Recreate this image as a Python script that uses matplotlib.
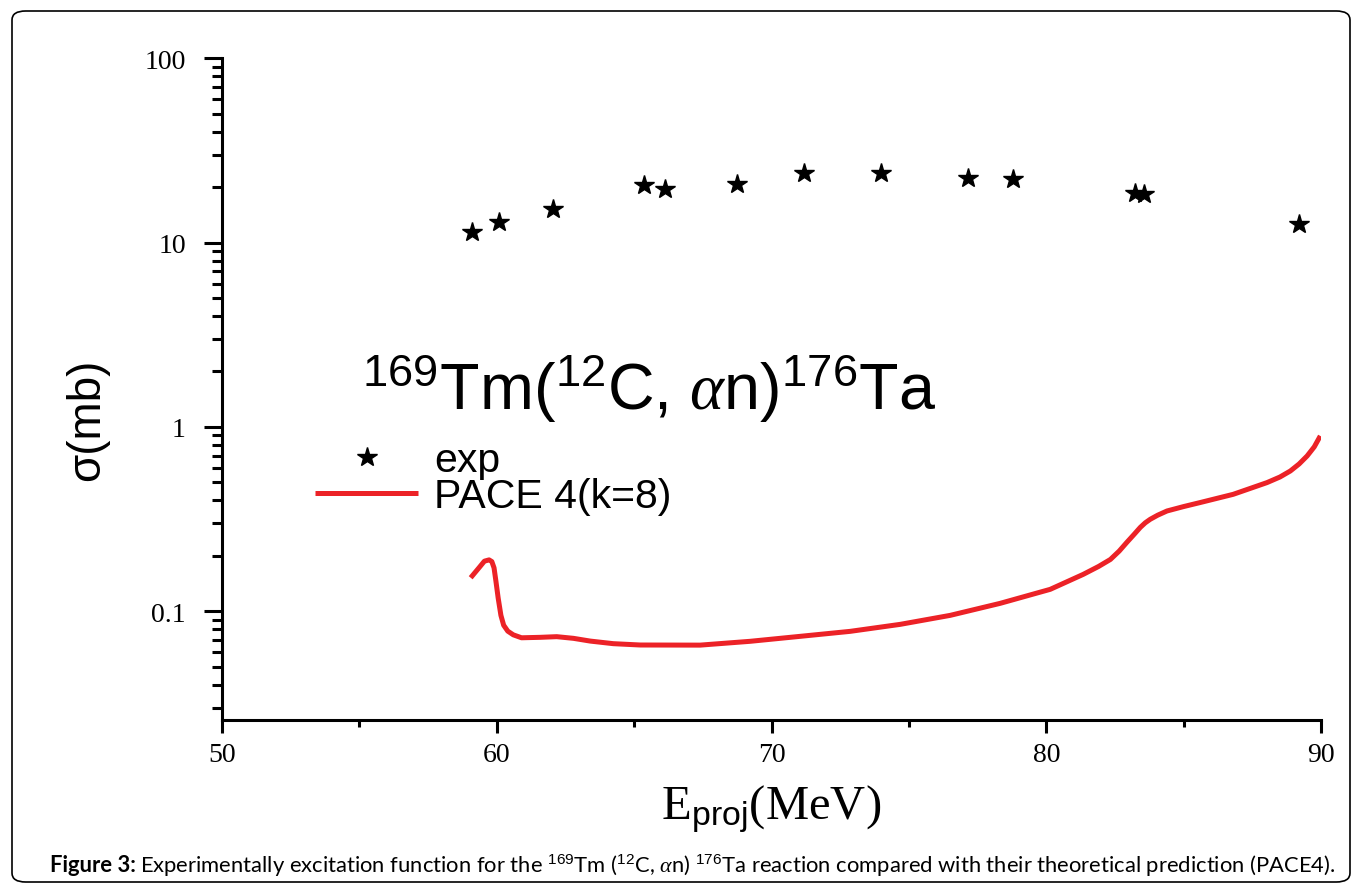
import numpy as np
import matplotlib
matplotlib.use('Agg')
import matplotlib.pyplot as plt
from matplotlib.patches import FancyBboxPatch
from matplotlib.ticker import FixedLocator, NullFormatter, LogLocator

plt.rcParams['mathtext.fontset'] = 'custom'
plt.rcParams['mathtext.rm'] = 'Liberation Serif'
plt.rcParams['mathtext.sf'] = 'Liberation Sans'
plt.rcParams['mathtext.it'] = 'Liberation Serif:italic'

# experimental points (MeV, mb)
e_exp = [59.10, 60.08, 62.06, 65.34, 66.12, 68.73, 71.17, 73.98, 77.16, 78.79, 83.21, 83.55, 89.20]
sig_exp = [11.45, 12.87, 15.2, 20.5, 19.5, 20.8, 24.0, 24.0, 22.3, 22.1, 18.5, 18.4, 12.7]

# PACE4 curve
e_pace = [59.05, 59.35, 59.55, 59.72, 59.82, 59.90, 59.97, 60.05, 60.15, 60.25, 60.40, 60.60,
          60.90, 61.58, 62.18, 62.79, 63.40, 64.24, 65.22, 67.40, 69.22, 71.04, 72.86, 74.68,
          76.50, 78.32, 80.14, 81.34, 81.90, 82.33, 82.65, 82.93, 83.20, 83.42, 83.60, 83.78,
          84.05, 84.39, 85.00, 85.60, 86.80, 88.03, 88.50, 88.88, 89.20, 89.49, 89.75, 89.97]
sig_pace = [0.152, 0.172, 0.187, 0.190, 0.186, 0.172, 0.145, 0.118, 0.095, 0.084, 0.078, 0.0745,
            0.0718, 0.0722, 0.0728, 0.0713, 0.0689, 0.0667, 0.0656, 0.0655, 0.0687, 0.0731, 0.0778, 0.0849,
            0.0950, 0.1104, 0.1315, 0.1585, 0.175, 0.191, 0.212, 0.2366, 0.262, 0.2853, 0.302, 0.3155,
            0.332, 0.350, 0.370, 0.389, 0.431, 0.499, 0.535, 0.577, 0.630, 0.696, 0.780, 0.894]

xticks = [50, 60, 70, 80, 90]
yticks = [0.1, 1, 10, 100]
ytick_labels = ['0.1', '1', '10', '100']

fig = plt.figure(figsize=(13.62, 8.95), dpi=100)
ax = fig.add_axes([0.163, 0.1944, 0.807, 0.7393])

ax.plot(e_pace, sig_pace, color='#ec2227', lw=3.6, label='PACE 4(k=8)', zorder=2,
        solid_joinstyle='round', solid_capstyle='butt')
ax.plot(e_exp, sig_exp, ls='none', marker='*', ms=15, color='black', label='exp', zorder=3)

ax.set_yscale('log')
ax.set_xlim(50, 90)
ax.set_ylim(0.0257, 100)

ax.set_xticks(xticks)
ax.set_xticklabels([str(t) for t in xticks])
ax.xaxis.set_minor_locator(FixedLocator([55, 65, 75, 85]))
ax.set_yticks(yticks)
ax.set_yticklabels(ytick_labels)
ax.yaxis.set_minor_locator(LogLocator(base=10, subs=np.arange(2, 10)))
ax.yaxis.set_minor_formatter(NullFormatter())

for s in ['top', 'right']:
    ax.spines[s].set_visible(False)
for s in ['left', 'bottom']:
    ax.spines[s].set_linewidth(2.2)

ax.tick_params(axis='y', which='major', direction='out', length=13, width=2.2, pad=13)
ax.tick_params(axis='y', which='minor', direction='out', length=7, width=2.2)
ax.tick_params(axis='x', which='major', direction='out', length=9, width=2.2, pad=7)
ax.tick_params(axis='x', which='minor', direction='out', length=5, width=2.2)
for lab in ax.get_xticklabels() + ax.get_yticklabels():
    lab.set_fontfamily('Liberation Serif')
    lab.set_fontsize(20)

ax.set_xlabel(r'$\mathrm{E}_{\mathsf{proj}}\mathrm{(MeV)}$', fontsize=35)
ax.xaxis.set_label_coords(0.5, -0.095)
ax.xaxis.label.set_va('top')
ax.set_ylabel('σ(mb)', fontsize=33, fontfamily='Liberation Sans')
ax.yaxis.set_label_coords(-0.103, 0.455)

ax.text(0.127, 0.47, r'$\mathsf{^{169}}$Tm($\mathsf{^{12}}$C, $\alpha$n)$\mathsf{^{176}}$Ta',
        transform=ax.transAxes, fontsize=46.5, fontfamily='Liberation Sans', va='baseline', ha='left')

handles, labels = ax.get_legend_handles_labels()
leg = ax.legend(handles[::-1], labels[::-1], loc='upper left', bbox_to_anchor=(0.085, 0.421),
                frameon=False, prop={'family': 'Liberation Sans', 'size': 29.5},
                handlelength=2.5, handletextpad=0.4, labelspacing=-0.05, borderpad=0, borderaxespad=0)

# border and caption
fig.patches.append(FancyBboxPatch((12 / 1362, 12 / 895), 1338 / 1362, 871 / 895,
                                  boxstyle='round,pad=0,rounding_size=0.01', transform=fig.transFigure,
                                  fill=False, lw=1.2, ec='black'))
cap1 = fig.text(50 / 1362, 1 - 866 / 895, 'Figure 3:', fontsize=15.8, fontfamily='Lato',
                fontweight='bold', va='center', ha='left')
fig.canvas.draw()
bb = cap1.get_window_extent()
fig.text(bb.x1 / 1362 + 0.003, 1 - 866 / 895,
         r'Experimentally excitation function for the $\mathsf{^{169}}$Tm ($\mathsf{^{12}}$C, $\alpha$n) '
         r'$\mathsf{^{176}}$Ta reaction compared with their theoretical prediction (PACE4).',
         fontsize=15.8, fontfamily='Lato', va='center', ha='left')

fig.savefig('out.png', dpi=100)
